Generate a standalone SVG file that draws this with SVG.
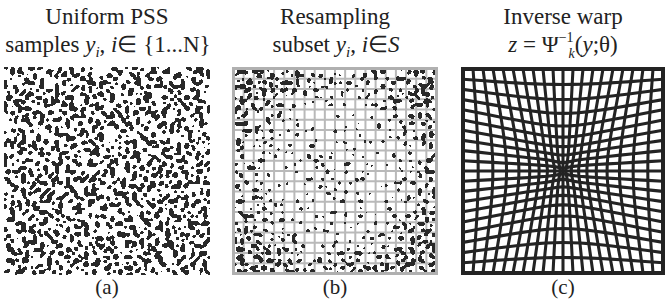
<svg xmlns="http://www.w3.org/2000/svg" xmlns:xlink="http://www.w3.org/1999/xlink" width="667" height="301" viewBox="0 0 667 301">
<style>
  text { font-family: "Liberation Serif", "Times New Roman", serif; fill: #222; }
  .title { font-size: 23px; text-anchor: middle; }
  .lab { font-size: 21px; text-anchor: middle; }
  .it { font-style: italic; }
  .warp { fill: none; stroke: #232323; stroke-width: 3.1; stroke-linejoin: round; stroke-linecap: round; }
  .frame { fill: none; stroke: #232323; stroke-width: 4; }
  .ggrid { fill: none; stroke: #b9b9b9; stroke-width: 2; }
  .gframe { fill: none; stroke: #b0b0b0; stroke-width: 3; }
</style>
<defs>
  <filter id="fa" x="0" y="0" width="1" height="1" color-interpolation-filters="sRGB">
    <feTurbulence type="fractalNoise" baseFrequency="0.27" numOctaves="1" seed="4"/>
    <feColorMatrix type="matrix" values="0 0 0 0 0  0 0 0 0 0  0 0 0 0 0  1 0 0 0 0"/>
    <feComponentTransfer><feFuncA type="discrete" tableValues="0 0 0 0 0 0 0 0 0 0 0 0 0 0 0 0 0 0 0 0 0 0 0 1 1 1 1 1 1 1 1 1 1 1 1 1 1 1 1 1"/></feComponentTransfer>
    <feGaussianBlur stdDeviation="1.2"/>
    <feComponentTransfer><feFuncA type="discrete" tableValues="0 0 0 1 1 1 1 1 1 1 1 1"/></feComponentTransfer>
    <feColorMatrix type="matrix" values="0 0 0 0 0.16  0 0 0 0 0.16  0 0 0 0 0.16  0 0 0 1 0"/>
  </filter>
  <filter id="fb" x="0" y="0" width="1" height="1" color-interpolation-filters="sRGB">
    <feTurbulence type="fractalNoise" baseFrequency="0.27" numOctaves="1" seed="11" result="t"/>
    <feColorMatrix in="t" type="matrix" values="0 0 0 0 0  0 0 0 0 0  0 0 0 0 0  1 0 0 0 0" result="n"/>
    <feColorMatrix in="SourceGraphic" type="matrix" values="0 0 0 0 0  0 0 0 0 0  0 0 0 0 0  1 0 0 0 0" result="g"/>
    <feComposite in="n" in2="g" operator="arithmetic" k1="0" k2="1" k3="1" k4="-0.5"/>
    <feComponentTransfer><feFuncA type="discrete" tableValues="0 0 0 0 0 0 0 0 0 0 0 0 0 0 0 0 0 0 0 0 0 0 0 1 1 1 1 1 1 1 1 1 1 1 1 1 1 1 1 1"/></feComponentTransfer>
    <feGaussianBlur stdDeviation="1.2"/>
    <feComponentTransfer><feFuncA type="discrete" tableValues="0 0 0 1 1 1 1 1 1 1 1 1"/></feComponentTransfer>
    <feColorMatrix type="matrix" values="0 0 0 0 0.16  0 0 0 0 0.16  0 0 0 0 0.16  0 0 0 1 0"/>
  </filter>
  <radialGradient id="dens" cx="0.5" cy="0.5" r="0.62">
    <stop offset="0" stop-color="#6c6c6c"/>
    <stop offset="0.45" stop-color="#616161"/>
    <stop offset="1" stop-color="#838383"/>
  </radialGradient>
  <path id="q" d="M10.15,-101.5 L9.33,-86.16 L8.53,-71.33 L7.77,-57.47 L7.06,-44.93 L6.44,-33.96 L5.86,-24.46 L5.24,-16.16 L4.37,-8.84 L3.33,-3.33 L2.82,0
M20.3,-101.5 L18.74,-86.35 L17.21,-71.7 L15.76,-57.97 L14.43,-45.52 L13.23,-34.58 L12.18,-25.14 L11.18,-17.04 L10.04,-10.04 L8.85,-4.37 L8.29,0
M30.45,-101.5 L28.30,-86.67 L26.20,-72.30 L24.21,-58.80 L22.37,-46.49 L20.73,-35.60 L19.32,-26.19 L18.11,-18.11 L17.04,-11.18 L16.16,-5.24 L15.80,0
M40.6,-101.5 L38.07,-87.10 L35.60,-73.12 L33.26,-59.92 L31.10,-47.82 L29.17,-37.00 L27.52,-27.52 L26.19,-19.32 L25.14,-12.18 L24.46,-5.86 L24.21,0
M50.75,-101.5 L48.09,-87.64 L45.50,-74.13 L43.03,-61.33 L40.75,-49.47 L38.73,-38.73 L37.00,-29.17 L35.60,-20.73 L34.58,-13.23 L33.96,-6.44 L33.75,0
M60.9,-101.5 L58.37,-88.26 L55.90,-75.33 L53.56,-62.97 L51.40,-51.40 L49.47,-40.75 L47.82,-31.10 L46.49,-22.37 L45.52,-14.43 L44.93,-7.06 L44.73,0
M71.05,-101.5 L68.90,-88.97 L66.80,-76.66 L64.81,-64.81 L62.97,-53.56 L61.33,-43.03 L59.92,-33.26 L58.80,-24.21 L57.97,-15.76 L57.47,-7.77 L57.30,0
M81.2,-101.5 L79.64,-89.73 L78.11,-78.11 L76.66,-66.80 L75.33,-55.90 L74.13,-45.50 L73.12,-35.60 L72.30,-26.20 L71.70,-17.21 L71.33,-8.53 L71.21,0
M91.35,-101.5 L90.53,-90.53 L89.73,-79.64 L88.97,-68.90 L88.26,-58.37 L87.64,-48.09 L87.10,-38.07 L86.67,-28.30 L86.35,-18.74 L86.16,-9.33 L86.10,0"/>
  <g id="half">
    <use xlink:href="#q"/>
    <use xlink:href="#q" transform="scale(-1,1)"/>
    <use xlink:href="#q" transform="scale(1,-1)"/>
    <use xlink:href="#q" transform="scale(-1,-1)"/>
    <path d="M0,-101.5V101.5"/>
  </g>
</defs>
<rect width="667" height="301" fill="#fff"/>

<g id="titles">
  <text class="title" x="107" y="24">Uniform PSS</text>
  <text class="title" x="108" y="52">samples <tspan class="it">y</tspan><tspan class="it" font-size="15" dy="5">i</tspan><tspan dy="-5">, </tspan><tspan class="it">i</tspan>∈ {1...N}</text>
  <text class="title" x="335" y="24">Resampling</text>
  <text class="title" x="336" y="52">subset <tspan class="it">y</tspan><tspan class="it" font-size="15" dy="5">i</tspan><tspan dy="-5">, </tspan><tspan class="it">i</tspan>∈<tspan class="it">S</tspan></text>
  <text class="title" x="563" y="24">Inverse warp</text>
  <text class="title" x="563" y="52"><tspan class="it">z</tspan> = Ψ<tspan font-size="14" dy="-10">−1</tspan><tspan class="it" font-size="14" dx="-5" dy="16">k</tspan><tspan dy="-6">(</tspan><tspan class="it">y</tspan>;θ)</text>
</g>

<g id="panel-a">
  <rect x="4" y="67" width="206" height="208" fill="#fff" filter="url(#fa)"/>
</g>

<g id="panel-b">
  <rect x="233.5" y="68.5" width="203" height="205" fill="#fff"/>
  <path class="ggrid" d="M243.65 68.5V273.5M253.8 68.5V273.5M263.95 68.5V273.5M274.1 68.5V273.5M284.25 68.5V273.5M294.4 68.5V273.5M304.55 68.5V273.5M314.7 68.5V273.5M324.85 68.5V273.5M335 68.5V273.5M345.15 68.5V273.5M355.3 68.5V273.5M365.45 68.5V273.5M375.6 68.5V273.5M385.75 68.5V273.5M395.9 68.5V273.5M406.05 68.5V273.5M416.2 68.5V273.5M426.35 68.5V273.5
M233.5 78.75H436.5M233.5 89H436.5M233.5 99.25H436.5M233.5 109.5H436.5M233.5 119.75H436.5M233.5 130H436.5M233.5 140.25H436.5M233.5 150.5H436.5M233.5 160.75H436.5M233.5 171H436.5M233.5 181.25H436.5M233.5 191.5H436.5M233.5 201.75H436.5M233.5 212H436.5M233.5 222.25H436.5M233.5 232.5H436.5M233.5 242.75H436.5M233.5 253H436.5M233.5 263.25H436.5"/>
  <rect class="gframe" x="233.5" y="68.5" width="203" height="205"/>
  <rect x="235" y="70" width="200" height="202" fill="url(#dens)" filter="url(#fb)"/>
</g>

<g id="panel-c">
  <g class="warp" transform="translate(563,171) scale(0.985,1.005)">
    <use xlink:href="#half"/>
    <use xlink:href="#half" transform="matrix(0,1,1,0,0,0)"/>
  </g>
  <rect class="frame" x="463" y="69" width="200" height="204"/>
</g>

<g id="labels">
  <text class="lab" x="107" y="294">(a)</text>
  <text class="lab" x="335" y="294">(b)</text>
  <text class="lab" x="563" y="294">(c)</text>
</g>
</svg>
